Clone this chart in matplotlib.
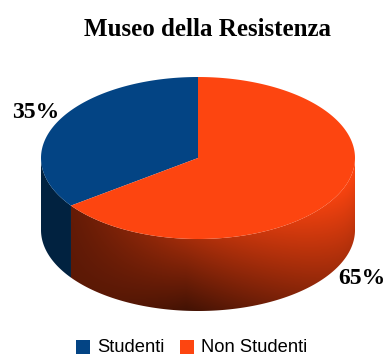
#!/usr/bin/env python3
import numpy as np
import matplotlib
matplotlib.use('Agg')
import matplotlib.pyplot as plt
from matplotlib.patches import Polygon, Rectangle

title = 'Museo della Resistenza'
labels = ['Studenti', 'Non Studenti']
shares = [35, 65]
pct_labels = ['35%', '65%']
top_colors = ['#034484', '#fd4510']
blue_side = '#012240'

# pie geometry in pixels
cx, cy = 198, 158
rx, ry = 157, 81
depth = 72


def rim(a):
    # a is the angle from the top going anticlockwise (degrees)
    t = np.radians(a)
    return cx - rx * np.sin(t), cy - ry * np.cos(t)


def orange_side(x, y):
    # brightness falls off to the left, and to the bottom around the middle
    top_y = cy + ry * np.sqrt(np.clip(1 - ((x - cx) / rx) ** 2, 0, 1))
    frac = np.clip((y - top_y) / depth, 0, 1)
    across = np.clip((x - 73) / (cx + rx - 73), 0, 1)
    level = 0.40 + 0.60 * across
    k = 0.1 + 0.5 * np.minimum(across / 0.4, 1) - 0.3 * np.maximum((across - 0.4) / 0.6, 0)
    level = np.clip(level * (1 - k * frac), 0, 1)
    return np.dstack([253 * level, 69 * level, 16 * level]) / 255


fig = plt.figure(figsize=(3.84, 3.56), dpi=100)
ax = fig.add_axes([0, 0, 1, 1])
ax.set_xlim(0, 384)
ax.set_ylim(356, 0)
ax.axis('off')

split = shares[0] / sum(shares) * 360

# side wall, blue part
a = np.linspace(90, split, 60)
xs, ys = rim(a)
ax.add_patch(Polygon(np.r_[np.c_[xs, ys], np.c_[xs[::-1], ys[::-1] + depth]],
                     closed=True, fc=blue_side, ec='none', zorder=1))

# side wall, orange part with gradient
a = np.linspace(split, 270, 200)
xs, ys = rim(a)
wall = Polygon(np.r_[np.c_[xs, ys], np.c_[xs[::-1], ys[::-1] + depth]],
               closed=True, transform=ax.transData, fc='none', ec='none')
ax.add_patch(wall)
gx, gy = np.meshgrid(np.arange(0, 384), np.arange(0, 356))
img = ax.imshow(orange_side(gx, gy), extent=(0, 384, 356, 0), zorder=2,
                interpolation='bilinear', aspect='auto')
img.set_clip_path(wall)

# top face
a = np.linspace(0, split, 120)
xs, ys = rim(a)
ax.add_patch(Polygon(np.r_[[[cx, cy]], np.c_[xs, ys]], closed=True,
                     fc=top_colors[0], ec='none', zorder=3))
a = np.linspace(split, 360, 240)
xs, ys = rim(a)
ax.add_patch(Polygon(np.r_[[[cx, cy]], np.c_[xs, ys]], closed=True,
                     fc=top_colors[1], ec='none', zorder=3))

serif = 'Liberation Serif'
ax.text(208, 29, title, family=serif, weight='bold', fontsize=18,
        ha='center', va='center')
ax.text(35.5, 112, pct_labels[0], family=serif, weight='bold', fontsize=17,
        ha='center', va='center')
ax.text(361.5, 278, pct_labels[1], family=serif, weight='bold', fontsize=17,
        ha='center', va='center')

# legend, the original text runs into the bottom edge so it sits a little higher here
ax.add_patch(Rectangle((76, 340), 14, 14, fc=top_colors[0], ec='none'))
ax.add_patch(Rectangle((180, 340), 14, 14, fc=top_colors[1], ec='none'))
ax.text(97, 352, labels[0], family='Liberation Sans', fontsize=13.2,
        ha='left', va='baseline')
ax.text(201, 352, labels[1], family='Liberation Sans', fontsize=13.2,
        ha='left', va='baseline')

ax.set_xlim(0, 384)
ax.set_ylim(356, 0)
fig.savefig('out.png', dpi=100)
